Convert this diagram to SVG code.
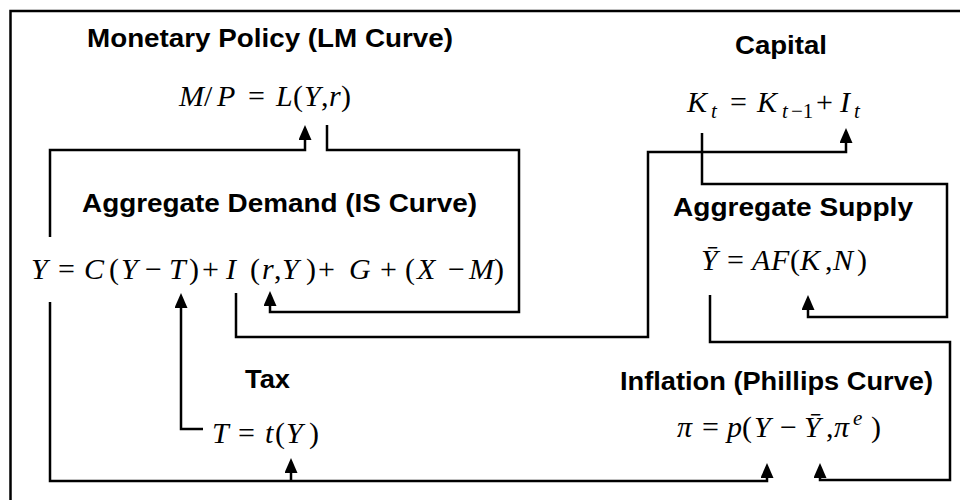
<svg xmlns="http://www.w3.org/2000/svg" width="960" height="500" viewBox="0 0 960 500">
<style>
.title{font-family:"Liberation Sans",Arial,sans-serif;font-weight:bold;font-size:25px;fill:#000}
.m{font-family:"Liberation Serif","Times New Roman",serif;font-size:30px;fill:#000}
.i{font-style:italic}
.sub{font-size:21px}
.conn{fill:none;stroke:#000;stroke-width:2.5;marker-end:url(#arr)}
</style>
<defs>
<marker id="arr" markerUnits="userSpaceOnUse" markerWidth="15" markerHeight="13" viewBox="0 0 15 13" refX="11" refY="6.5" orient="auto">
<path d="M0,0 L15,6.5 L0,13 z" fill="#000"/>
</marker>
</defs>
<rect x="0" y="0" width="960" height="500" fill="#fff"/>
<rect x="10.5" y="11" width="970" height="510" fill="none" stroke="#000" stroke-width="2.5"/>

<g id="connectors">
<path class="conn" d="M50,237 V150 H305 V129"/>
<path class="conn" d="M327,125 V150 H519 V312 H270 V295"/>
<path class="conn" d="M236,293 V337 H648 V152 H846 V132"/>
<path class="conn" d="M702,133 V184 H947 V317 H808 V299"/>
<path class="conn" d="M710,295 V342 H950 V480 H820 V467"/>
<path class="conn" d="M50,302 V481 H767 V467"/>
<path class="conn" d="M291,481 V462"/>
<path class="conn" d="M203,429 H181 V297"/>
</g>

<g id="lm">
<text class="title" x="87" y="47" textLength="366" lengthAdjust="spacingAndGlyphs">Monetary Policy (LM Curve)</text>
<text class="m" y="106"><tspan class="i" x="179">M</tspan><tspan x="204">/</tspan><tspan class="i" x="217">P</tspan><tspan x="248">=</tspan><tspan class="i" x="276">L</tspan><tspan x="293">(</tspan><tspan class="i" x="304">Y</tspan><tspan x="321">,</tspan><tspan class="i" x="329">r</tspan><tspan x="341">)</tspan></text>
</g>

<g id="capital">
<text class="title" x="735" y="54" textLength="92" lengthAdjust="spacingAndGlyphs">Capital</text>
<text class="m" y="112"><tspan class="i" x="687">K</tspan><tspan class="i sub" x="711" y="118">t</tspan><tspan x="730" y="112">=</tspan><tspan class="i" x="757">K</tspan><tspan class="i sub" x="782" y="118">t</tspan><tspan class="sub" x="791" y="118">−1</tspan><tspan x="816" y="112">+</tspan><tspan class="i" x="840">I</tspan><tspan class="i sub" x="854" y="118">t</tspan></text>
</g>

<g id="is">
<text class="title" x="82" y="212" textLength="395" lengthAdjust="spacingAndGlyphs">Aggregate Demand (IS Curve)</text>
<text class="m" y="279"><tspan class="i" x="31">Y</tspan><tspan x="58">=</tspan><tspan class="i" x="84">C</tspan><tspan x="109">(</tspan><tspan class="i" x="121">Y</tspan><tspan x="145">−</tspan><tspan class="i" x="169">T</tspan><tspan x="189">)</tspan><tspan x="202">+</tspan><tspan class="i" x="226">I</tspan><tspan x="250">(</tspan><tspan class="i" x="262">r</tspan><tspan x="274">,</tspan><tspan class="i" x="282">Y</tspan><tspan x="306">)</tspan><tspan x="318">+</tspan><tspan class="i" x="349">G</tspan><tspan x="380">+</tspan><tspan x="405">(</tspan><tspan class="i" x="417">X</tspan><tspan x="448">−</tspan><tspan class="i" x="469">M</tspan><tspan x="494">)</tspan></text>
</g>

<g id="as">
<text class="title" x="673" y="216" textLength="240" lengthAdjust="spacingAndGlyphs">Aggregate Supply</text>
<text class="m" y="270"><tspan class="i" x="701">Ȳ</tspan><tspan x="727">=</tspan><tspan class="i" x="752">A</tspan><tspan class="i" x="771">F</tspan><tspan x="790">(</tspan><tspan class="i" x="800">K</tspan><tspan x="825">,</tspan><tspan class="i" x="833">N</tspan><tspan x="857">)</tspan></text>
</g>

<g id="tax">
<text class="title" x="245" y="388" textLength="45" lengthAdjust="spacingAndGlyphs">Tax</text>
<text class="m" y="443"><tspan class="i" x="212">T</tspan><tspan x="238">=</tspan><tspan class="i" x="265">t</tspan><tspan x="275">(</tspan><tspan class="i" x="286">Y</tspan><tspan x="309">)</tspan></text>
</g>

<g id="inflation">
<text class="title" x="620" y="390" textLength="313" lengthAdjust="spacingAndGlyphs">Inflation (Phillips Curve)</text>
<text class="m" y="437"><tspan class="i" x="677">π</tspan><tspan x="702">=</tspan><tspan class="i" x="727">p</tspan><tspan x="742">(</tspan><tspan class="i" x="754">Y</tspan><tspan x="780">−</tspan><tspan class="i" x="804">Ȳ</tspan><tspan x="826">,</tspan><tspan class="i" x="834">π</tspan><tspan class="i sub" x="853" y="425">e</tspan><tspan x="871" y="437">)</tspan></text>
</g>
</svg>
